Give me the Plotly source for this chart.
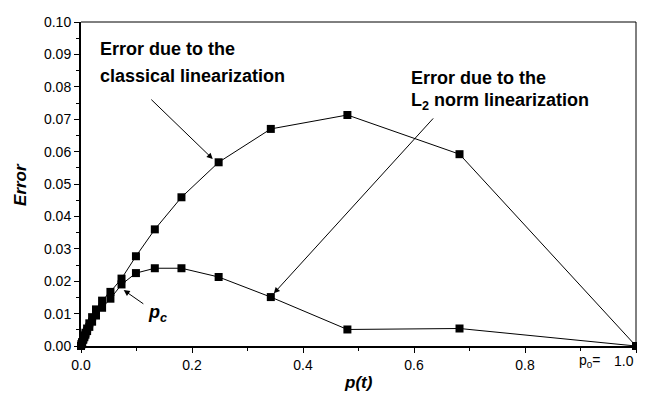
import plotly.graph_objects as go

p_values = [0.0, 0.001, 0.002, 0.004, 0.006, 0.008, 0.011, 0.015, 0.020, 0.027,
            0.038, 0.053, 0.073, 0.099, 0.133, 0.181, 0.248, 0.342, 0.480, 0.682, 1.0]
err_classical = [0.0, 0.0006, 0.0012, 0.0022, 0.0032, 0.0041, 0.0054, 0.0070, 0.0089, 0.0113,
                 0.0140, 0.0167, 0.0208, 0.0277, 0.0360, 0.0459, 0.0567, 0.0670, 0.0713, 0.0592, 0.0]
err_l2 = [0.0, 0.0005, 0.0010, 0.0019, 0.0027, 0.0035, 0.0046, 0.0059, 0.0075, 0.0094,
          0.0118, 0.0146, 0.0190, 0.0225, 0.0240, 0.0240, 0.0213, 0.0151, 0.0051, 0.0054, 0.0]

x_tickvals = [0.0, 0.2, 0.4, 0.6, 0.8, 1.0]
x_ticktext = ["0.0", "0.2", "0.4", "0.6", "0.8", ""]   # "1.0" drawn with the p0 label
y_tickvals = [0.00, 0.01, 0.02, 0.03, 0.04, 0.05, 0.06, 0.07, 0.08, 0.09, 0.10]
y_ticktext = ["0.00", "0.01", "0.02", "0.03", "0.04", "0.05", "0.06", "0.07", "0.08", "0.09", "0.10"]

FONT = "Liberation Sans, Arial, Helvetica, sans-serif"

fig = go.Figure()
for ys in (err_classical, err_l2):
    fig.add_trace(go.Scatter(
        x=p_values, y=ys, mode="lines+markers",
        line=dict(color="black", width=1),
        marker=dict(symbol="square", size=8, color="black"),
        cliponaxis=False, showlegend=False,
    ))

# page body has an 8px margin: figure is sized so the page fits the 645x401 window exactly
fig.update_layout(
    width=629, height=385,
    margin=dict(l=73, r=1, t=14, b=47),
    paper_bgcolor="white", plot_bgcolor="white",
    font=dict(family=FONT, size=14, color="black"),
    xaxis=dict(range=[0, 1.0], tickvals=x_tickvals, ticktext=x_ticktext,
               ticks="outside", ticklen=5, tickwidth=1, tickcolor="black",
               showline=True, linewidth=2, linecolor="black",
               showgrid=False, zeroline=False,
               minor=dict(tickvals=[0.1, 0.3, 0.5, 0.7, 0.9], ticks="outside", ticklen=3, tickcolor="black")),
    yaxis=dict(range=[0, 0.1], tickvals=y_tickvals, ticktext=y_ticktext,
               ticks="outside", ticklen=5, tickwidth=1, tickcolor="black",
               showline=True, linewidth=2, linecolor="black",
               showgrid=False, zeroline=False,
               minor=dict(dtick=0.005, ticks="outside", ticklen=3, tickcolor="black")),
    shapes=[
        dict(type="line", xref="paper", yref="paper", x0=0, x1=1, y0=1, y1=1,
             line=dict(color="black", width=1)),
        dict(type="line", xref="paper", yref="paper", x0=1, x1=1, y0=0, y1=1,
             line=dict(color="black", width=1)),
    ],
)

bold = dict(family=FONT, size=18, color="black")
tickfont = dict(family=FONT, size=14, color="black")
ann = [
    dict(x=0.0306, y=0.0917, text="<b>Error due to the</b>", xanchor="left", yanchor="middle", font=bold),
    dict(x=0.0306, y=0.0833, text="<b>classical linearization</b>", xanchor="left", yanchor="middle", font=bold),
    dict(x=0.5917, y=0.0826, text="<b>Error due to the</b>", xanchor="left", yanchor="middle", font=bold),
    dict(x=0.5917, y=0.0755, text="<b>L<sub>2</sub> norm linearization</b>", xanchor="left", yanchor="middle", font=bold),
    dict(x=0.138, y=0.0100, text="<b><i>p<sub>c</sub></i></b>", xanchor="center", yanchor="middle", font=bold),
    dict(x=0.917, y=-0.045, xref="paper", yref="paper", text="p<sub>0</sub>=", xanchor="center",
         yanchor="middle", font=tickfont),
    dict(x=1.0, y=-0.045, xref="paper", yref="paper", text="1.0", xanchor="right",
         yanchor="middle", font=tickfont),
    dict(x=0.5, y=-0.114, xref="paper", yref="paper", text="<b><i>p(t)</i></b>", xanchor="center", yanchor="middle",
         font=dict(family=FONT, size=17, color="black")),
    dict(x=-0.11, y=0.5, xref="paper", yref="paper", text="<b><i>Error</i></b>", textangle=-90,
         xanchor="center", yanchor="middle", font=dict(family=FONT, size=17, color="black")),
]
for a in ann:
    a.setdefault("xref", "x")
    a.setdefault("yref", "y")
    a["showarrow"] = False
    fig.add_annotation(**a)

arrows = [
    dict(x=0.240, y=0.0573, ax=0.124, ay=0.0765),
    dict(x=0.345, y=0.0158, ax=0.637, ay=0.0707),
    dict(x=0.074, y=0.0176, ax=0.115, ay=0.0127),
]
for a in arrows:
    fig.add_annotation(x=a["x"], y=a["y"], ax=a["ax"], ay=a["ay"], xref="x", yref="y",
                       axref="x", ayref="y", text="", showarrow=True, arrowhead=2,
                       arrowsize=1.2, arrowwidth=1, arrowcolor="black", standoff=2)

fig.write_html("out.html")
